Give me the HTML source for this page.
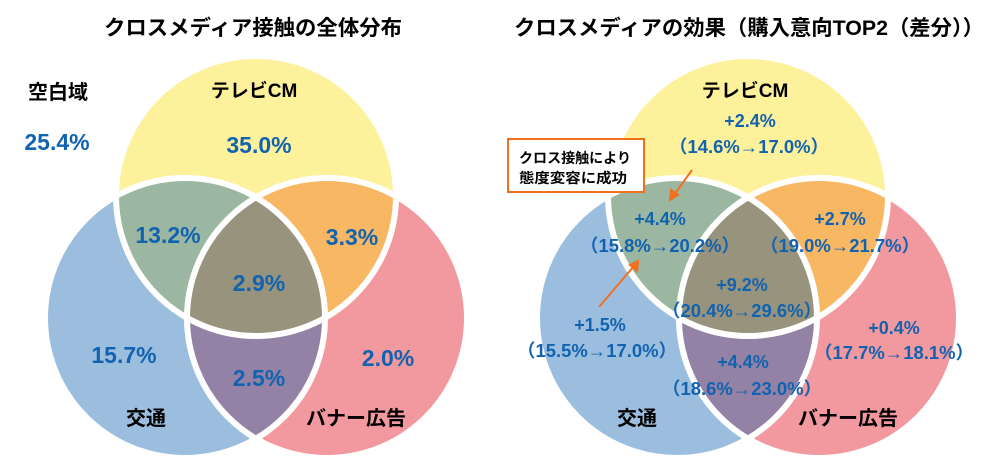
<!DOCTYPE html>
<html><head><meta charset="utf-8"><style>
html,body{margin:0;padding:0;background:#fff;}
svg{display:block;}
.t{font-family:"Liberation Sans","Noto Sans CJK JP",sans-serif;font-weight:bold;fill:#000;text-anchor:middle;}
.n{font-family:"Liberation Sans","Noto Sans CJK JP",sans-serif;font-weight:bold;fill:#1163b0;text-anchor:middle;}
</style></head><body>
<svg width="995" height="464" viewBox="0 0 995 464" xmlns="http://www.w3.org/2000/svg">
<defs>
<clipPath id="cy"><circle cx="256" cy="196" r="140"/></clipPath>
<clipPath id="cb"><circle cx="185" cy="318" r="140"/></clipPath>
<clipPath id="cp"><circle cx="327" cy="318" r="140"/></clipPath>
<g id="venn">
<circle cx="256" cy="196" r="140" fill="#fdf19b"/>
<circle cx="185" cy="318" r="140" fill="#9bbedf"/>
<circle cx="327" cy="318" r="140" fill="#f2989f"/>
<g clip-path="url(#cy)"><circle cx="185" cy="318" r="140" fill="#9bb7a2"/><circle cx="327" cy="318" r="140" fill="#f7b763"/></g>
<g clip-path="url(#cb)"><circle cx="327" cy="318" r="140" fill="#9382a5"/></g>
<g clip-path="url(#cy)"><g clip-path="url(#cb)"><circle cx="327" cy="318" r="140" fill="#97937d"/></g></g>
<g fill="none" stroke="#fff" stroke-width="6">
<circle cx="256" cy="196" r="140"/><circle cx="185" cy="318" r="140"/><circle cx="327" cy="318" r="140"/>
</g>
</g>
</defs>
<use href="#venn"/>
<use href="#venn" transform="translate(492,0)"/>

<text class="t" x="253" y="35" font-size="21" textLength="298" lengthAdjust="spacingAndGlyphs">クロスメディア接触の全体分布</text>
<text class="t" x="749" y="35" font-size="21" textLength="470" lengthAdjust="spacingAndGlyphs">クロスメディアの効果（購入意向TOP2（差分））</text>

<text class="t" x="58" y="99" font-size="20">空白域</text>
<text class="n" x="57" y="150" font-size="23">25.4%</text>
<text class="t" x="254" y="97" font-size="19">テレビCM</text>
<text class="n" x="259" y="153" font-size="23">35.0%</text>
<text class="n" x="168" y="243" font-size="23">13.2%</text>
<text class="n" x="352" y="245" font-size="23">3.3%</text>
<text class="n" x="259" y="291" font-size="23">2.9%</text>
<text class="n" x="124" y="363" font-size="23">15.7%</text>
<text class="n" x="259" y="386" font-size="23">2.5%</text>
<text class="n" x="388" y="366" font-size="23">2.0%</text>
<text class="t" x="146" y="425" font-size="20">交通</text>
<text class="t" x="356" y="425" font-size="20">バナー広告</text>

<text class="t" x="745" y="97" font-size="19">テレビCM</text>
<g font-size="18">
<text class="n" x="750" y="127">+2.4%</text>
<text class="n" x="749" y="153" textLength="160" lengthAdjust="spacingAndGlyphs">（14.6%→17.0%）</text>
<text class="n" x="660" y="225">+4.4%</text>
<text class="n" x="660" y="252" textLength="160" lengthAdjust="spacingAndGlyphs">（15.8%→20.2%）</text>
<text class="n" x="840" y="225">+2.7%</text>
<text class="n" x="840" y="252" textLength="160" lengthAdjust="spacingAndGlyphs">（19.0%→21.7%）</text>
<text class="n" x="742" y="291">+9.2%</text>
<text class="n" x="742" y="317" textLength="160" lengthAdjust="spacingAndGlyphs">（20.4%→29.6%）</text>
<text class="n" x="600" y="331">+1.5%</text>
<text class="n" x="597" y="357" textLength="160" lengthAdjust="spacingAndGlyphs">（15.5%→17.0%）</text>
<text class="n" x="894" y="334">+0.4%</text>
<text class="n" x="894" y="359" textLength="160" lengthAdjust="spacingAndGlyphs">（17.7%→18.1%）</text>
<text class="n" x="743" y="368">+4.4%</text>
<text class="n" x="742" y="395" textLength="160" lengthAdjust="spacingAndGlyphs">（18.6%→23.0%）</text>
</g>
<text class="t" x="637" y="425" font-size="20">交通</text>
<text class="t" x="848" y="425" font-size="20">バナー広告</text>

<rect x="508" y="139" width="136" height="53" fill="#fff" stroke="#f07020" stroke-width="2"/>
<text class="t" x="575" y="163" font-size="14" textLength="112" lengthAdjust="spacingAndGlyphs">クロス接触により</text>
<text class="t" x="573" y="183" font-size="14" textLength="108" lengthAdjust="spacingAndGlyphs">態度変容に成功</text>
<g stroke="#f07020" stroke-width="2" fill="#f07020">
<line x1="692" y1="170" x2="674" y2="195"/>
<polygon points="670,200 671,190 678,195"/>
<line x1="599" y1="307" x2="634" y2="266"/>
<polygon points="638,261 637,271 630,265"/>
</g>
</svg>
</body></html>
